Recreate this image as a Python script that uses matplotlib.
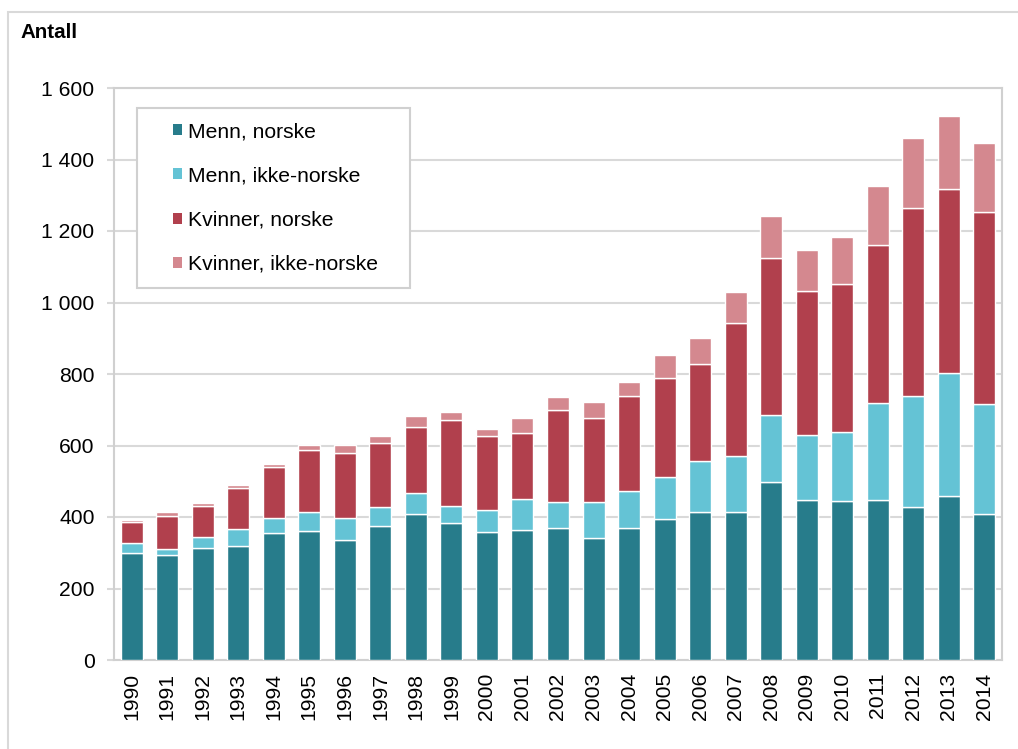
import numpy as np
import matplotlib.pyplot as plt
from matplotlib.patches import Rectangle

plt.rcParams['font.family'] = ['Liberation Sans', 'DejaVu Sans']

# Data
years = [str(y) for y in range(1990, 2015)]
menn_norske = [300, 295, 314, 319, 355, 361, 336, 375, 409, 383, 359, 364, 370,
               341, 369, 395, 414, 414, 497, 448, 446, 447, 427, 458, 407]
menn_ikke = [28, 16, 30, 47, 42, 53, 60, 54, 58, 48, 61, 87, 72,
             101, 105, 116, 143, 156, 189, 182, 193, 272, 312, 346, 309]
kvinner_norske = [58, 93, 87, 115, 144, 173, 183, 178, 186, 240, 206, 185, 256,
                  235, 264, 279, 272, 373, 439, 401, 414, 442, 526, 513, 538]
kvinner_ikke = [7, 11, 8, 9, 8, 14, 22, 20, 30, 23, 20, 40, 39,
                45, 41, 63, 73, 85, 117, 115, 129, 166, 194, 205, 191]

series = [
    ("Menn, norske", menn_norske, "#277c8b"),
    ("Menn, ikke-norske", menn_ikke, "#64c3d5"),
    ("Kvinner, norske", kvinner_norske, "#b1404d"),
    ("Kvinner, ikke-norske", kvinner_ikke, "#d4888f"),
]
yticks = [0, 200, 400, 600, 800, 1000, 1200, 1400, 1600]
ytick_labels = ["0", "200", "400", "600", "800", "1 000", "1 200", "1 400", "1 600"]

W, H = 1018, 749
fig = plt.figure(figsize=(W / 100, H / 100), dpi=100)

# outer frame
fig.patches.append(Rectangle((8 / W, -0.01), 1.02, 1 - 12 / H + 0.01,
                             transform=fig.transFigure, fill=False,
                             edgecolor="#d9d9d9", linewidth=1.5))

ax_l, ax_r, ax_t, ax_b = 114, 1002, 88, 660
ax = fig.add_axes([ax_l / W, 1 - ax_b / H, (ax_r - ax_l) / W, (ax_b - ax_t) / H])


def px_to_ax(px, py):
    return (px - ax_l) / (ax_r - ax_l), (ax_b - py) / (ax_b - ax_t)


x = np.arange(len(years))
bottom = np.zeros(len(years))
for label, vals, col in series:
    ax.bar(x, vals, width=0.62, bottom=bottom, color=col, edgecolor="white",
           linewidth=1.0, label=label, zorder=3)
    bottom += np.array(vals)

fs = 15.2
ax.set_xlim(-0.5, len(years) - 0.5)
ax.set_ylim(0, 1600)
ax.set_yticks(yticks)
ax.set_yticklabels(ytick_labels, fontsize=fs)
ax.set_xticks(x)
ax.set_xticklabels(years, rotation=90, fontsize=fs)
ax.tick_params(axis="x", length=0, pad=9)
ax.tick_params(axis="y", length=5, width=1.5, color="#d9d9d9", pad=9)
ax.yaxis.grid(True, color="#d9d9d9", linewidth=1.5, zorder=0)
ax.set_axisbelow(True)
for s in ax.spines.values():
    s.set_color("#d0d0d0")
    s.set_linewidth(1.5)

fig.text(20 / W, 1 - 32 / H, "Antall", fontsize=14.8, fontweight="bold",
         va="center", ha="left")

# legend box drawn by hand, entries placed inside it
x0, y0 = px_to_ax(137, 108)
x1, y1 = px_to_ax(410, 288)
ax.add_patch(Rectangle((x0, y1), x1 - x0, y0 - y1, transform=ax.transAxes,
                       facecolor="white", edgecolor="#d0d0d0", linewidth=1.5,
                       zorder=5))
leg = ax.legend(loc="upper left", bbox_to_anchor=px_to_ax(173, 122), fontsize=fs,
                frameon=False, handlelength=0.42, handleheight=0.42,
                handletextpad=0.3, labelspacing=1.2, borderpad=0,
                borderaxespad=0)
leg.set_zorder(6)
for h in leg.legend_handles:
    h.set_edgecolor("none")

plt.savefig("out.png", dpi=100)
